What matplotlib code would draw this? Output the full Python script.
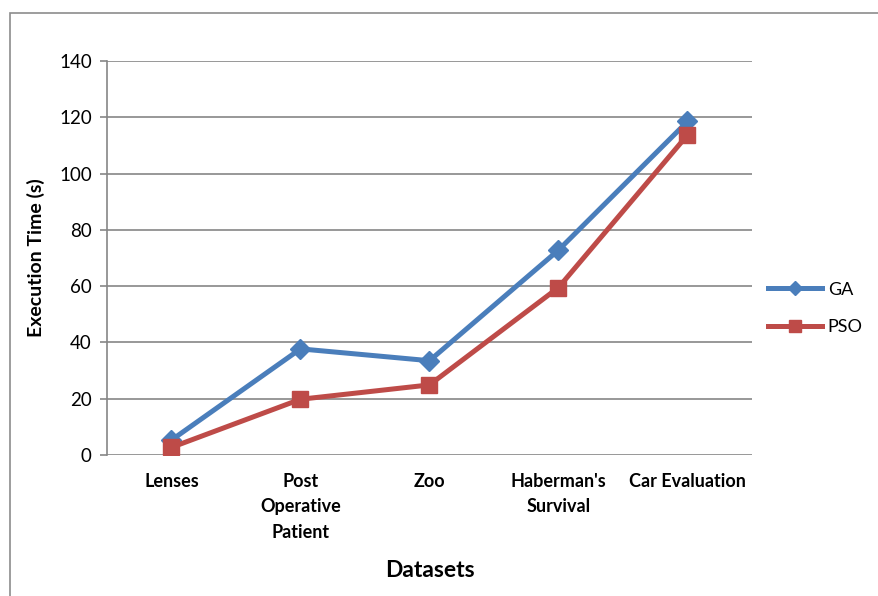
import matplotlib
matplotlib.use("Agg")
import matplotlib.pyplot as plt
from matplotlib.patches import Rectangle

plt.rcParams['font.family'] = ['Lato', 'DejaVu Sans']

# Data
datasets = ["Lenses", "Post\nOperative\nPatient", "Zoo", "Haberman's\nSurvival", "Car Evaluation"]
ga_time = [5.3, 37.7, 33.5, 72.8, 118.5]
pso_time = [2.7, 19.8, 24.9, 59.5, 113.7]
y_ticks = [0, 20, 40, 60, 80, 100, 120, 140]

fig = plt.figure(figsize=(8.79, 5.96), dpi=100)
ax = fig.add_axes([0.1217, 0.2366, 0.7338, 0.6611])

# outer chart border (only top/left visible in the reference)
fig.patches.append(Rectangle((10 / 879, -0.1), 1.2, (596 - 13) / 596 + 0.1,
                             transform=fig.transFigure, fill=False,
                             edgecolor='#8c8c8c', linewidth=1.2))

x = list(range(len(datasets)))
ax.plot(x, ga_time, color='#4A7EBB', lw=3.6, marker='D', ms=10, label='GA', zorder=3)
ax.plot(x, pso_time, color='#BE4B48', lw=3.6, marker='s', ms=11, label='PSO', zorder=3)

ax.set_xlim(-0.5, 4.5)
ax.set_ylim(0, 140)
ax.set_yticks(y_ticks)
ax.set_xticks(x)
ax.set_xticklabels(datasets, fontweight='bold', fontsize=13, linespacing=1.6)
ax.tick_params(axis='x', length=0, pad=13)
ax.tick_params(axis='y', length=5, width=1.2, color='#868686', labelsize=13.5, pad=6)

ax.yaxis.grid(True, color='#868686', lw=1.2)
ax.set_axisbelow(True)
for s in ['top', 'right']:
    ax.spines[s].set_visible(False)
ax.spines['bottom'].set_visible(False)
ax.spines['left'].set_color('#868686')
ax.spines['left'].set_linewidth(1.2)

ax.set_ylabel('Execution Time (s)', fontweight='bold', fontsize=14, labelpad=10)
ax.set_xlabel('Datasets', fontweight='bold', fontsize=16.5, labelpad=14)

ax.legend(loc='center left', bbox_to_anchor=(1.0, 0.372), frameon=False,
          fontsize=13, handlelength=3.0, handletextpad=0.3, labelspacing=1.2,
          markerscale=0.75)

fig.savefig('out.png', dpi=100)
